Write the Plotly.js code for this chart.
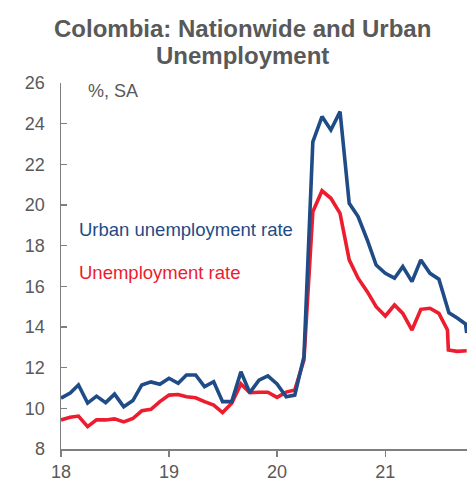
<!DOCTYPE html>
<html>
<head>
<meta charset="utf-8">
<script src="https://cdn.plot.ly/plotly-3.0.1.min.js"></script>
<style>html,body{margin:0;padding:0;background:#fff}#chart{width:474px;height:481px}</style>
</head>
<body>
<div id="chart"></div>
<script>
var urbanDates = [
  "2018-01-01","2018-02-01","2018-03-01","2018-04-01","2018-05-01","2018-06-01",
  "2018-07-01","2018-08-01","2018-09-01","2018-10-01","2018-11-01","2018-12-01",
  "2019-01-01","2019-02-01","2019-03-01","2019-04-01","2019-05-01","2019-06-01",
  "2019-07-01","2019-08-01","2019-09-01","2019-10-01","2019-11-01","2019-12-01",
  "2020-01-01","2020-02-01","2020-03-01","2020-04-01","2020-05-01","2020-06-01",
  "2020-07-01","2020-08-01","2020-09-01","2020-10-01","2020-11-01","2020-12-01",
  "2021-01-01","2021-02-01","2021-03-01","2021-04-01","2021-05-01","2021-06-01",
  "2021-07-01","2021-07-29","2021-08-04","2021-09-01","2021-09-29","2021-10-03"
];
var urbanRate = [
  10.50, 10.75, 11.15, 10.26, 10.60, 10.28, 10.70, 10.08, 10.38, 11.15, 11.30, 11.18,
  11.48, 11.23, 11.64, 11.64, 11.07, 11.31, 10.33, 10.33, 11.80, 10.77, 11.39, 11.60,
  11.20, 10.57, 10.65, 12.54, 23.10, 24.35, 23.69, 24.59, 20.08, 19.43, 18.28, 17.05,
  16.64, 16.40, 16.97, 16.23, 17.30, 16.64, 16.35, 15.08, 14.70, 14.44, 14.15, 13.70
];
var totalDates = [
  "2018-01-01","2018-02-01","2018-03-01","2018-04-01","2018-05-01","2018-06-01",
  "2018-07-01","2018-08-01","2018-09-01","2018-10-01","2018-11-01","2018-12-01",
  "2019-01-01","2019-02-01","2019-03-01","2019-04-01","2019-05-01","2019-06-01",
  "2019-07-01","2019-08-01","2019-09-01","2019-10-01","2019-11-01","2019-12-01",
  "2020-01-01","2020-02-01","2020-03-01","2020-04-01","2020-05-01","2020-06-01",
  "2020-07-01","2020-08-01","2020-09-01","2020-10-01","2020-11-01","2020-12-01",
  "2021-01-01","2021-02-01","2021-03-01","2021-04-01","2021-05-01","2021-06-01",
  "2021-07-01","2021-07-30","2021-08-02","2021-09-01","2021-10-03"
];
var totalRate = [
  9.43, 9.56, 9.62, 9.10, 9.43, 9.43, 9.48, 9.33, 9.50, 9.88, 9.95, 10.33,
  10.65, 10.68, 10.57, 10.52, 10.33, 10.16, 9.79, 10.25, 11.20, 10.77, 10.79, 10.79,
  10.54, 10.80, 10.90, 12.38, 19.67, 20.70, 20.33, 19.59, 17.30, 16.40, 15.74, 15.00,
  14.54, 15.08, 14.67, 13.85, 14.87, 14.92, 14.67, 13.85, 12.87, 12.80, 12.83
];
var tickDates = ["2018-01-01","2019-01-01","2020-01-01","2021-01-01"];
var tickLabels = ["18","19","20","21"];
var yTicks = [8,10,12,14,16,18,20,22,24,26];
var seriesNames = ["Urban unemployment rate","Unemployment rate"];
var titleLines = ["Colombia: Nationwide and Urban","Unemployment"];
var unitText = "%, SA";

var BLUE = "#1F4B86", RED = "#ED1C2E", GREY = "#595959", AXIS = "#7F7F7F";
var FONT = "Liberation Sans, Arial, sans-serif";

var traces = [
  {x: totalDates, y: totalRate, type: "scatter", mode: "lines", name: seriesNames[1],
   line: {color: RED, width: 3.6}},
  {x: urbanDates, y: urbanRate, type: "scatter", mode: "lines", name: seriesNames[0],
   line: {color: BLUE, width: 3.6}}
];

var titleFont = {family: FONT, size: 24, color: GREY, weight: "bold"};

var layout = {
  width: 474, height: 481,
  margin: {l: 61, r: 7, t: 83, b: 32},
  paper_bgcolor: "#fff", plot_bgcolor: "#fff",
  showlegend: false,
  font: {family: FONT, size: 18, color: GREY},
  xaxis: {type: "date", range: ["2018-01-01", "2021-10-04"],
          tickmode: "array", tickvals: tickDates, ticktext: tickLabels,
          ticks: "outside", ticklen: 6, tickwidth: 1.5, tickcolor: AXIS,
          showline: true, linecolor: AXIS, linewidth: 1.5,
          showgrid: false, zeroline: false,
          tickfont: {family: FONT, size: 18, color: GREY}},
  yaxis: {range: [8, 26], tickmode: "array", tickvals: yTicks,
          ticks: "inside", ticklen: 6, tickwidth: 1.5, tickcolor: AXIS,
          showline: true, linecolor: AXIS, linewidth: 1.5,
          showgrid: false, zeroline: false, ticklabelstandoff: 11,
          tickfont: {family: FONT, size: 18, color: GREY}},
  annotations: [
    {text: titleLines[0], xref: "paper", yref: "paper", x: 0.448, y: 1.150,
     xanchor: "center", yanchor: "middle", showarrow: false, font: titleFont},
    {text: titleLines[1], xref: "paper", yref: "paper", x: 0.448, y: 1.074,
     xanchor: "center", yanchor: "middle", showarrow: false, font: titleFont},
    {text: unitText, xref: "paper", yref: "paper", x: 0.0616, y: 0.977,
     xanchor: "left", yanchor: "middle", showarrow: false,
     font: {family: FONT, size: 18, color: GREY}},
    {text: seriesNames[0], xref: "paper", yref: "paper", x: 0.0387, y: 0.599,
     xanchor: "left", yanchor: "middle", showarrow: false,
     font: {family: FONT, size: 18.5, color: BLUE}},
    {text: seriesNames[1], xref: "paper", yref: "paper", x: 0.0387, y: 0.481,
     xanchor: "left", yanchor: "middle", showarrow: false,
     font: {family: FONT, size: 18.5, color: RED}}
  ]
};

Plotly.newPlot("chart", traces, layout, {displayModeBar: false, staticPlot: true});
</script>
</body>
</html>
